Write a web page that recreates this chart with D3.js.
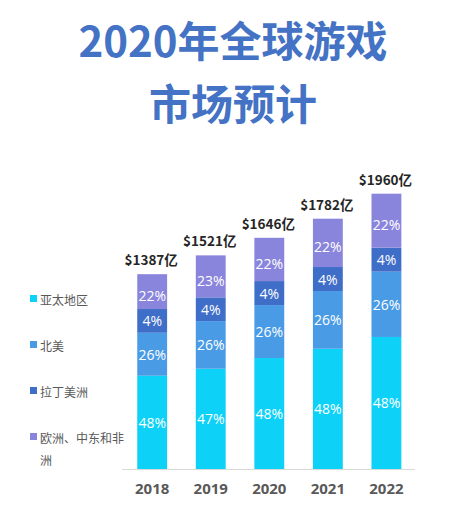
<!DOCTYPE html>
<html>
<head>
<meta charset="utf-8">
<script src="https://cdn.jsdelivr.net/npm/d3@7"></script>
<style>
  html, body { margin: 0; padding: 0; background: #ffffff; }
  svg { display: block; }
</style>
</head>
<body>
<svg id="chart" width="453" height="515"></svg>
<script>
// ---- data ----
const titleLines = ["2020年全球游戏", "市场预计"];
const years = ["2018", "2019", "2020", "2021", "2022"];
const totals = [1387, 1521, 1646, 1782, 1960];
const totalLabels = ["$1387亿", "$1521亿", "$1646亿", "$1782亿", "$1960亿"];
const seriesNames = ["亚太地区", "北美", "拉丁美洲", "欧洲、中东和非洲"];
// drawn segment sizes (亿)
const asiaValues = [664, 714, 790, 856, 940];
const naValues   = [306, 339, 377, 411, 465];
const laValues   = [169, 169, 171, 171, 171];
const emeaValues = [248, 299, 308, 344, 384];
// printed labels
const asiaPct = ["48%", "47%", "48%", "48%", "48%"];
const naPct   = ["26%", "26%", "26%", "26%", "26%"];
const laPct   = ["4%", "4%", "4%", "4%", "4%"];
const emeaPct = ["22%", "23%", "22%", "22%", "22%"];
const colors = ["#0ED1F8", "#4A9BE6", "#3F6EC9", "#8A85DC"];

const keys = ["asia", "na", "la", "emea"];
const valueArrays = [asiaValues, naValues, laValues, emeaValues];
const pctArrays = [asiaPct, naPct, laPct, emeaPct];
const rows = years.map((y, i) => {
  const r = { year: y, total: totals[i], label: totalLabels[i] };
  keys.forEach((k, j) => { r[k] = valueArrays[j][i]; });
  return r;
});

const svg = d3.select("#chart");

// title
svg.append("g").selectAll("text").data(titleLines).join("text")
  .attr("x", 233)
  .attr("y", (d, i) => 38 + i * 63)
  .attr("text-anchor", "middle")
  .attr("dominant-baseline", "central")
  .attr("font-family", "'Noto Sans CJK SC', 'Noto Sans', sans-serif")
  .attr("font-weight", 700)
  .attr("font-size", 42)
  .attr("fill", "#4472C4")
  .text(d => d);

// scales
const x = d3.scaleBand().domain(years).range([122.6, 416]).paddingInner(0.49).paddingOuter(0.25);
const y = d3.scaleLinear().domain([0, 1960]).range([469, 193.7]);
const color = d3.scaleOrdinal().domain(keys).range(colors);

const stacked = d3.stack().keys(keys)(rows);

// bars
const layers = svg.append("g").selectAll("g").data(stacked).join("g")
  .attr("fill", d => color(d.key));
layers.selectAll("rect").data(d => d).join("rect")
  .attr("x", d => x(d.data.year))
  .attr("width", x.bandwidth())
  .attr("y", d => y(d[1]))
  .attr("height", d => y(d[0]) - y(d[1]));

// percent labels
stacked.forEach((layer, li) => {
  svg.append("g").selectAll("text").data(layer).join("text")
    .attr("x", d => x(d.data.year) + x.bandwidth() / 2)
    .attr("y", d => (y(d[0]) + y(d[1])) / 2 + (li === 3 ? 4 : 0))
    .attr("text-anchor", "middle")
    .attr("dominant-baseline", "central")
    .attr("font-family", "'Open Sans', 'Noto Sans', sans-serif")
    .attr("font-size", 14)
    .attr("fill", "#ffffff")
    .text((d, i) => pctArrays[li][i]);
});

// total labels
svg.append("g").selectAll("text").data(rows).join("text")
  .attr("x", d => x(d.year) + x.bandwidth() / 2 - 1)
  .attr("y", d => y(d.total) - 9)
  .attr("text-anchor", "middle")
  .attr("font-family", "'Noto Sans CJK SC', 'Open Sans', sans-serif")
  .attr("font-weight", 700)
  .attr("font-size", 13.5)
  .attr("fill", "#262626")
  .text(d => d.label);

// x axis
const xAxis = svg.append("g").attr("transform", "translate(0,469.5)")
  .call(d3.axisBottom(x).tickSize(0).tickPadding(14).tickSizeOuter(0));
xAxis.select(".domain").remove();
xAxis.append("line").attr("x1", 122).attr("x2", 415).attr("y1", 0).attr("y2", 0)
  .attr("stroke", "#d9d9d9").attr("stroke-width", 1);
xAxis.selectAll(".tick text")
  .attr("font-family", "'Open Sans', 'Noto Sans', sans-serif")
  .attr("font-weight", 700)
  .attr("font-size", 15)
  .attr("fill", "#595959");

// legend
const legend = svg.append("g").selectAll("g").data(seriesNames).join("g")
  .attr("transform", (d, i) => `translate(30,${295 + i * 46})`);
legend.append("rect").attr("width", 7).attr("height", 7)
  .attr("fill", (d, i) => colors[i]);
legend.append("text")
  .attr("x", 10).attr("y", 4)
  .attr("dominant-baseline", "central")
  .attr("font-family", "'Noto Sans CJK SC', sans-serif")
  .attr("font-size", 12)
  .attr("fill", "#595959")
  .each(function(d) {
    const t = d3.select(this);
    if (d.length > 6) {
      t.append("tspan").attr("x", 10).text(d.slice(0, 7));
      t.append("tspan").attr("x", 10).attr("dy", 22).text(d.slice(7));
    } else {
      t.text(d);
    }
  });
</script>
</body>
</html>
